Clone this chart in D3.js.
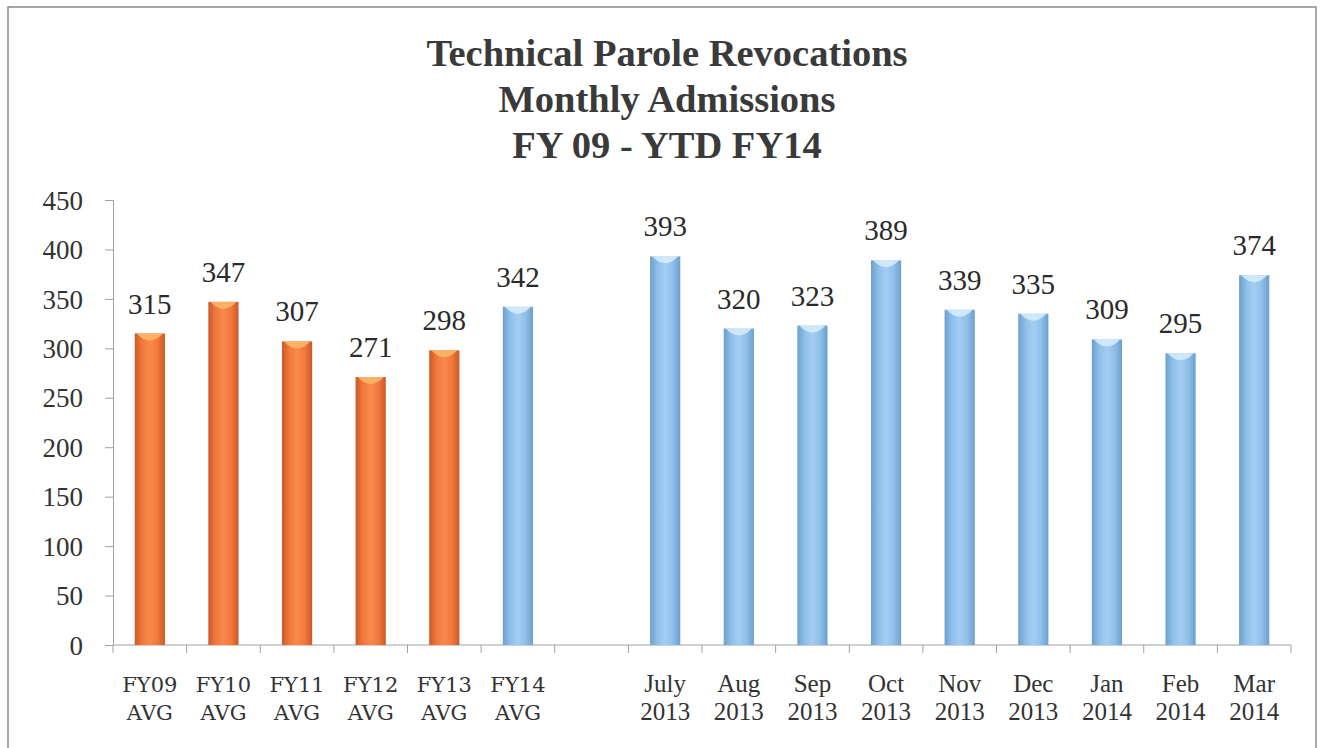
<!DOCTYPE html>
<html>
<head>
<meta charset="utf-8">
<script src="https://cdn.jsdelivr.net/npm/d3@7"></script>
<style>
  body { margin: 0; background: #fff; }
  text { font-family: "Liberation Serif", "Times New Roman", serif; }
  text.avg { font-family: "DejaVu Serif", serif; }
</style>
</head>
<body>
<script>
// ---------------- DATA ----------------
const titleLines = ["Technical Parole Revocations", "Monthly Admissions", "FY 09 - YTD FY14"];
const categories = ["FY09 AVG", "FY10 AVG", "FY11 AVG", "FY12 AVG", "FY13 AVG", "FY14 AVG", "gap",
  "July 2013", "Aug 2013", "Sep 2013", "Oct 2013", "Nov 2013", "Dec 2013", "Jan 2014", "Feb 2014", "Mar 2014"];
const admissions = [315, 347, 307, 271, 298, 342, null, 393, 320, 323, 389, 339, 335, 309, 295, 374];
const barGroup = ["past", "past", "past", "past", "past", "current", "none",
  "current", "current", "current", "current", "current", "current", "current", "current", "current"];
const yTicks = [0, 50, 100, 150, 200, 250, 300, 350, 400, 450];

// ---------------- SETUP ----------------
const W = 1320, H = 748;
const x0 = 113, x1 = 1291, yBase = 645, yTop = 200;
const SERIF = "Liberation Serif";

const svg = d3.select("body").append("svg")
  .attr("width", W).attr("height", H);

const defs = svg.append("defs");
function cylGrad(id, edge, mid, light) {
  const g = defs.append("linearGradient").attr("id", id)
    .attr("x1", "0%").attr("x2", "100%").attr("y1", "0%").attr("y2", "0%");
  g.append("stop").attr("offset", "0%").attr("stop-color", edge);
  g.append("stop").attr("offset", "25%").attr("stop-color", mid);
  g.append("stop").attr("offset", "50%").attr("stop-color", light);
  g.append("stop").attr("offset", "75%").attr("stop-color", mid);
  g.append("stop").attr("offset", "100%").attr("stop-color", edge);
}
cylGrad("gPast", "#c95a28", "#f4783d", "#f98a4c");
cylGrad("gCurrent", "#6d9fcc", "#8ec0ea", "#a3cdf1");

// frame
svg.append("rect")
  .attr("x", 8).attr("y", 7).attr("width", 1308).attr("height", 760)
  .attr("fill", "none").attr("stroke", "#8a8a8a").attr("stroke-width", 1.5);

// title
svg.append("g").selectAll("text")
  .data(titleLines)
  .enter().append("text")
  .attr("x", 667)
  .attr("y", (d, i) => 66 + i * 46)
  .attr("text-anchor", "middle")
  .attr("font-family", SERIF)
  .attr("font-weight", "bold")
  .attr("font-size", 38.5)
  .attr("fill", "#3a3a3a")
  .text(d => d);

// ---------------- SCALES ----------------
const xScale = d3.scaleBand()
  .domain(categories)
  .range([x0, x1])
  .paddingInner(0.59)
  .paddingOuter(0.295);
const step = xScale.step();

const yScale = d3.scaleLinear().domain([0, 450]).range([yBase, yTop]);

// ---------------- AXES ----------------
const yAxis = d3.axisLeft(yScale)
  .tickValues(yTicks)
  .tickSize(8)
  .tickPadding(22);

const yG = svg.append("g")
  .attr("transform", "translate(" + x0 + ",0)")
  .call(yAxis)
  .attr("font-family", SERIF)
  .attr("font-size", 27);
yG.select(".domain").attr("stroke", "#a0a0a0");
yG.selectAll(".tick line").attr("stroke", "#a0a0a0");
yG.selectAll(".tick text")
  .attr("font-family", SERIF)
  .attr("fill", "#333")
  .attr("dy", "0.34em");

// x axis line + boundary ticks
const xG = svg.append("g");
xG.append("line")
  .attr("x1", x0).attr("x2", x1)
  .attr("y1", yBase).attr("y2", yBase)
  .attr("stroke", "#a0a0a0");
xG.selectAll(".xtick")
  .data(d3.range(categories.length + 1))
  .enter().append("line")
  .attr("class", "xtick")
  .attr("x1", i => x0 + i * step).attr("x2", i => x0 + i * step)
  .attr("y1", yBase).attr("y2", yBase + 8)
  .attr("stroke", "#a0a0a0");

// category labels (two lines)
const labels = xG.selectAll(".xlab")
  .data(categories.filter(c => c !== "gap"))
  .enter().append("text")
  .attr("class", c => c.indexOf("AVG") >= 0 ? "xlab avg" : "xlab")
  .attr("text-anchor", "middle")
  .attr("font-family", c => c.indexOf("AVG") >= 0 ? "DejaVu Serif" : SERIF)
  .attr("font-size", c => c.indexOf("AVG") >= 0 ? 21 : 25)
  .attr("fill", "#333");
labels.each(function(c) {
  const parts = c.split(" ");
  const cx = xScale(c) + xScale.bandwidth() / 2;
  d3.select(this).append("tspan").attr("x", cx).attr("y", 692).text(parts[0]);
  d3.select(this).append("tspan").attr("x", cx).attr("y", 720).text(parts[1]);
});

// ---------------- BARS ----------------
const barData = categories.map((c, i) => ({ cat: c, value: admissions[i], group: barGroup[i] }))
  .filter(d => d.value !== null);

const bars = svg.append("g").selectAll(".bar")
  .data(barData)
  .enter().append("g")
  .attr("class", "bar");

bars.append("rect")
  .attr("x", d => xScale(d.cat))
  .attr("y", d => yScale(d.value))
  .attr("width", xScale.bandwidth())
  .attr("height", d => yBase - yScale(d.value))
  .attr("fill", d => d.group === "past" ? "url(#gPast)" : "url(#gCurrent)");

// top highlight cap
bars.append("path")
  .attr("d", d => {
    const bx = xScale(d.cat), bw = xScale.bandwidth(), by = yScale(d.value);
    return "M" + (bx + 2) + "," + by + " L" + (bx + bw - 2) + "," + by +
      " Q" + (bx + bw / 2) + "," + (by + 14) + " " + (bx + 2) + "," + by + "Z";
  })
  .attr("fill", d => d.group === "past" ? "#fbb768" : "#d4ebfb")
  .attr("opacity", 0.9);

// value labels
bars.append("text")
  .attr("x", d => xScale(d.cat) + xScale.bandwidth() / 2)
  .attr("y", d => yScale(d.value) - 20)
  .attr("text-anchor", "middle")
  .attr("font-family", SERIF)
  .attr("font-size", 29)
  .attr("fill", "#2a2a2a")
  .text(d => d.value);
</script>
</body>
</html>
